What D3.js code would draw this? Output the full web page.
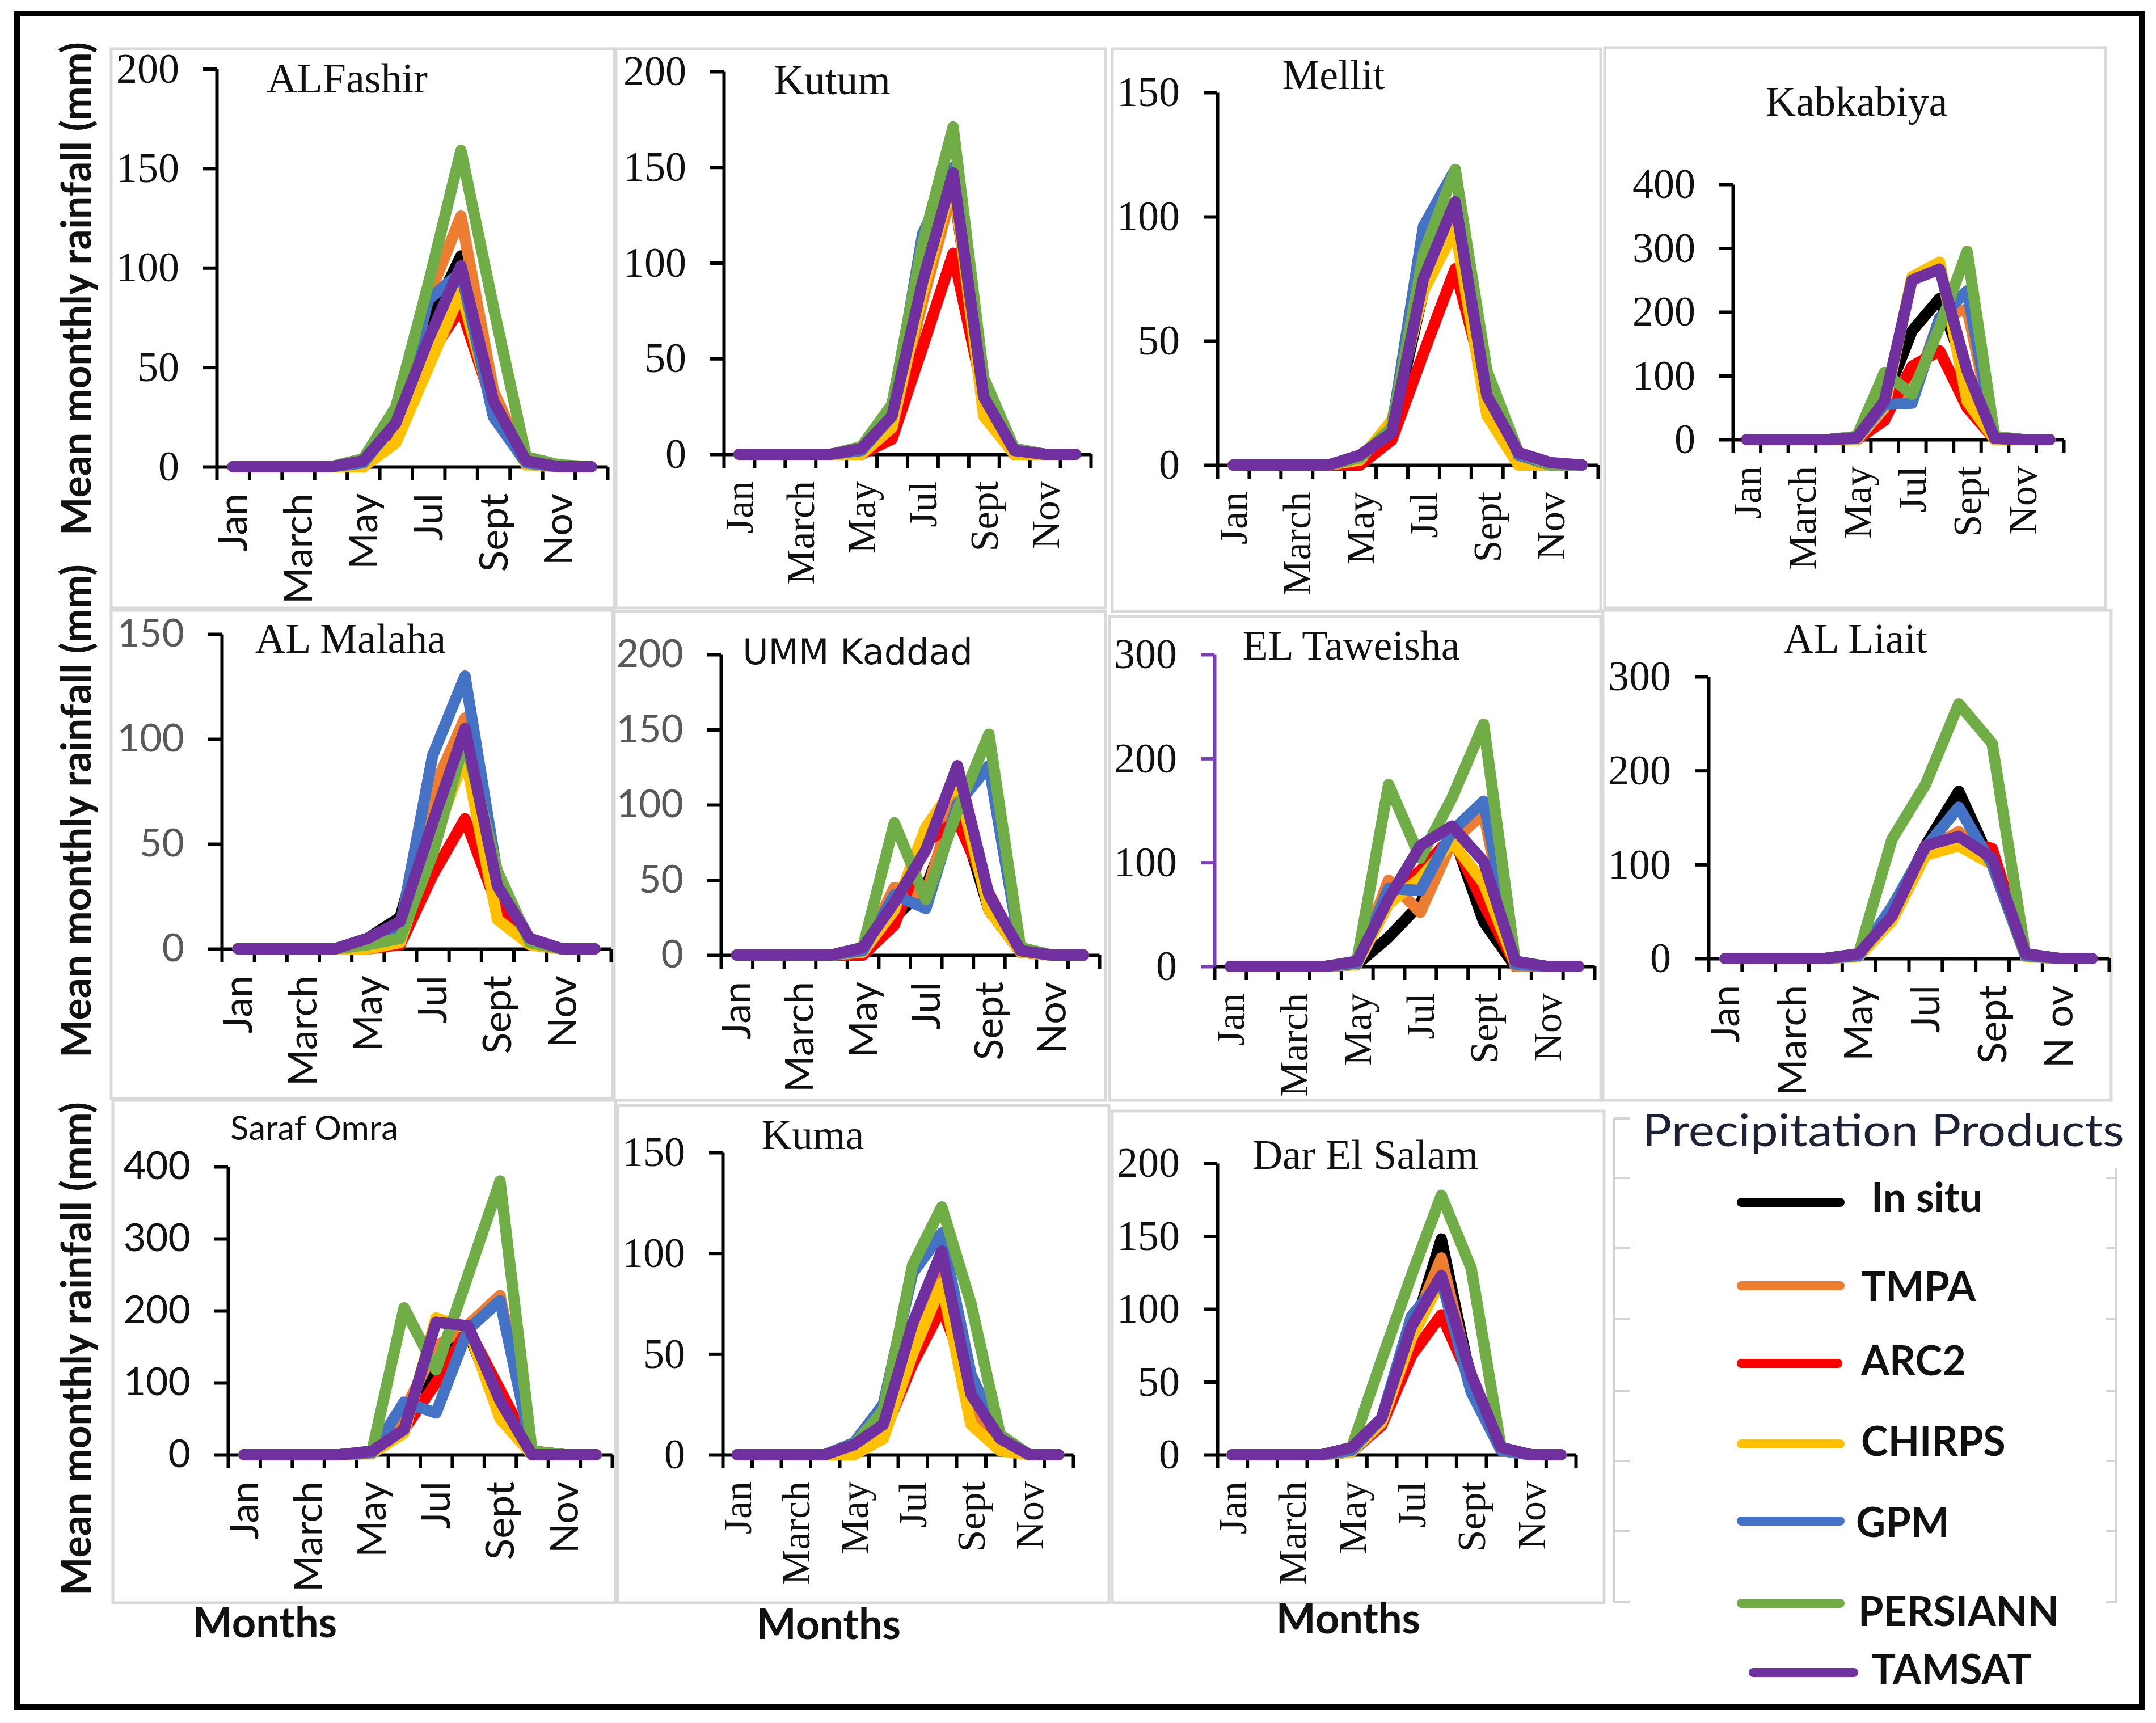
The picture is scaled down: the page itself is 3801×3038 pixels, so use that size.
<!DOCTYPE html>
<html lang="en">
<head>
<meta charset="utf-8">
<title>Mean monthly rainfall - precipitation products</title>
<script src="https://cdn.jsdelivr.net/npm/d3@7"></script>
<style>
  body { margin: 0; background: #fff; }
</style>
</head>
<body>
<script>
var W = 3801, H = 3038;

// months on the x axis, only every other one is labelled
var months = ["Jan","Feb","Mar","Apr","May","Jun","Jul","Aug","Sep","Oct","Nov","Dec"];
var monthLabels = {Jan: "Jan", Mar: "March", May: "May", Jul: "Jul", Sep: "Sept", Nov: "Nov"};

// products (series) and their colours
var products = ["In situ","TMPA","ARC2","CHIRPS","GPM","PERSIANN","TAMSAT"];
var productColors = ["#000000","#ED7D31","#FF0000","#FFC000","#4472C4","#70AD47","#7030A0"];

var stations = ["ALFashir","Kutum","Mellit","Kabkabiya","AL Malaha","UMM Kaddad",
                "EL Taweisha","AL Liait","Saraf Omra","Kuma","Dar El Salam"];
var yMax = [200, 200, 150, 400, 150, 200, 300, 300, 400, 150, 200];
var yStep = [50, 50, 50, 100, 50, 50, 100, 100, 100, 50, 50];

// mean monthly rainfall (mm), rows in product order: In situ, TMPA, ARC2, CHIRPS, GPM, PERSIANN, TAMSAT
var alFashir = [
  [0,0,0,0,2,20,72,106,32,3,0,0],
  [0,0,0,0,0,15,85,126,38,2,0,0],
  [0,0,0,0,0,18,55,80,30,2,0,0],
  [0,0,0,0,0,12,50,88,28,1,0,0],
  [0,0,0,0,2,22,84,98,25,2,0,0],
  [0,0,0,0,4,30,92,159,80,5,1,0],
  [0,0,0,0,3,22,64,101,33,3,0,0]
];
var kutum = [
  [0,0,0,0,2,18,85,140,30,2,0,0],
  [0,0,0,0,0,12,80,140,32,0,0,0],
  [0,0,0,0,0,8,56,105,30,0,0,0],
  [0,0,0,0,0,14,85,145,20,0,0,0],
  [0,0,0,0,2,20,115,150,30,3,0,0],
  [0,0,0,0,4,26,110,171,40,3,0,0],
  [0,0,0,0,3,20,90,147,30,2,0,0]
];
var mellit = [
  [0,0,0,0,3,13,70,100,35,3,0,0],
  [0,0,0,0,0,15,75,100,30,2,0,0],
  [0,0,0,0,0,10,45,79,30,2,0,0],
  [0,0,0,0,2,18,70,95,20,0,0,0],
  [0,0,0,0,3,15,96,119,35,4,0,0],
  [0,0,0,0,3,15,85,119,38,5,0,0],
  [0,0,0,0,4,13,75,106,28,5,1,0]
];
var kabkabiya = [
  [0,0,0,0,2,60,170,221,100,2,0,0],
  [0,0,0,0,0,50,65,190,205,2,0,0],
  [0,0,0,0,0,30,115,139,50,0,0,0],
  [0,0,0,0,0,50,255,278,60,0,0,0],
  [0,0,0,0,2,55,57,190,233,2,0,0],
  [0,0,0,0,5,105,71,176,295,5,0,0],
  [0,0,0,0,3,60,250,267,108,2,0,0]
];
var alMalaha = [
  [0,0,0,0,5,15,70,100,18,3,0,0],
  [0,0,0,0,3,8,75,110,25,3,0,0],
  [0,0,0,0,0,2,35,62,20,2,0,0],
  [0,0,0,0,0,3,50,92,14,2,0,0],
  [0,0,0,0,5,10,92,130,35,4,0,0],
  [0,0,0,0,2,5,45,100,37,3,0,0],
  [0,0,0,0,5,13,60,105,30,5,0,0]
];
var ummKaddad = [
  [0,0,0,0,3,25,45,100,30,2,0,0],
  [0,0,0,0,2,45,40,110,40,2,0,0],
  [0,0,0,0,0,20,75,90,41,2,0,0],
  [0,0,0,0,2,30,85,115,30,2,0,0],
  [0,0,0,0,3,40,31,100,126,3,0,0],
  [0,0,0,0,5,88,37,96,147,5,0,0],
  [0,0,0,0,5,35,70,126,40,3,0,0]
];
var elTaweisha = [
  [0,0,0,0,2,28,60,130,43,0,0,0],
  [0,0,0,0,2,83,52,120,147,0,0,0],
  [0,0,0,0,2,65,92,125,60,2,0,0],
  [0,0,0,0,2,60,85,120,80,2,0,0],
  [0,0,0,0,3,75,73,130,159,2,0,0],
  [0,0,0,0,5,175,104,162,233,5,0,0],
  [0,0,0,0,5,65,116,135,101,5,0,0]
];
var alLiait = [
  [0,0,0,0,3,50,120,178,100,3,0,0],
  [0,0,0,0,3,45,115,135,105,3,0,0],
  [0,0,0,0,3,45,112,127,117,3,0,0],
  [0,0,0,0,2,40,110,120,100,2,0,0],
  [0,0,0,0,3,55,118,161,100,3,0,0],
  [0,0,0,0,5,127,185,271,229,5,0,0],
  [0,0,0,0,5,45,120,130,107,5,0,0]
];
var sarafOmra = [
  [0,0,0,0,3,40,120,170,60,0,0,0],
  [0,0,0,0,3,60,150,180,221,5,0,0],
  [0,0,0,0,2,35,100,175,90,5,0,0],
  [0,0,0,0,2,30,190,175,50,0,0,0],
  [0,0,0,0,3,73,58,174,214,5,0,0],
  [0,0,0,0,5,204,118,249,380,5,0,0],
  [0,0,0,0,5,35,184,179,75,0,0,0]
];
var kuma = [
  [0,0,0,0,5,18,60,100,30,5,0,0],
  [0,0,0,0,3,12,55,90,25,5,0,0],
  [0,0,0,0,2,10,45,73,35,5,0,0],
  [0,0,0,0,0,8,50,85,15,2,0,0],
  [0,0,0,0,6,25,90,110,40,8,0,0],
  [0,0,0,0,5,22,94,123,75,10,0,0],
  [0,0,0,0,5,15,65,101,30,8,0,0]
];
var darElSalam = [
  [0,0,0,0,3,20,80,148,50,3,0,0],
  [0,0,0,0,3,25,85,135,50,3,0,0],
  [0,0,0,0,2,20,68,96,50,3,0,0],
  [0,0,0,0,2,22,80,120,50,3,0,0],
  [0,0,0,0,3,25,95,120,43,3,0,0],
  [0,0,0,0,5,65,123,178,128,5,0,0],
  [0,0,0,0,5,25,88,123,55,5,0,0]
];
var stationData = [alFashir, kutum, mellit, kabkabiya, alMalaha, ummKaddad,
                   elTaweisha, alLiait, sarafOmra, kuma, darElSalam];

//Fonts
var SERIF = "'Liberation Serif', 'Times New Roman', serif";
var LATO = "Lato, 'Noto Sans', sans-serif";
var DEJA = "'DejaVu Sans', Verdana, sans-serif";

//Panel geometry (pixels): y axis x, zero line y, top of y axis, end of x axis, title, frame
var panels = [
  {ax: 382,  zero: 823,  top: 121.5, xEnd: 1071, tx: 612,  ty: 163,  frame: [196, 86, 1083, 1072],  tFont: SERIF, kFont: SERIF, mFont: LATO},
  {ax: 1276, zero: 801,  top: 126,   xEnd: 1923, tx: 1467, ty: 166,  frame: [1086, 86, 1949, 1072], tFont: SERIF, kFont: SERIF, mFont: SERIF},
  {ax: 2146, zero: 820,  top: 163,   xEnd: 2817, tx: 2351, ty: 157,  frame: [1961, 86, 2822, 1078], tFont: SERIF, kFont: SERIF, mFont: SERIF},
  {ax: 3055, zero: 775,  top: 325,   xEnd: 3638, tx: 3273, ty: 204,  frame: [2829, 84, 3712, 1072], tFont: SERIF, kFont: SERIF, mFont: SERIF},
  {ax: 391,  zero: 1673, top: 1118,  xEnd: 1077, tx: 618,  ty: 1151, frame: [196, 1076, 1080, 1937], tFont: SERIF, kFont: LATO, mFont: LATO, kColor: "#595959"},
  {ax: 1271, zero: 1684, top: 1154,  xEnd: 1938, tx: 1512, ty: 1171, frame: [1083, 1078, 1949, 1940], tFont: DEJA, kFont: LATO, mFont: LATO, kColor: "#595959", tSize: 62},
  {ax: 2141, zero: 1704, top: 1154,  xEnd: 2811, tx: 2382, ty: 1163, frame: [1956, 1087, 2822, 1940], tFont: SERIF, kFont: SERIF, mFont: SERIF, yColor: "#7B3FB5"},
  {ax: 3012, zero: 1690, top: 1193,  xEnd: 3718, tx: 3271, ty: 1151, frame: [2826, 1076, 3722, 1940], tFont: SERIF, kFont: SERIF, mFont: LATO, novLabel: "N ov"},
  {ax: 402,  zero: 2565, top: 2057,  xEnd: 1079, tx: 554,  ty: 2010, frame: [199, 1940, 1085, 2826], tFont: LATO, kFont: LATO, mFont: LATO, tSize: 60},
  {ax: 1274, zero: 2565, top: 2032,  xEnd: 1892, tx: 1433, ty: 2026, frame: [1089, 1949, 1955, 2826], tFont: SERIF, kFont: SERIF, mFont: SERIF},
  {ax: 2146, zero: 2565, top: 2051,  xEnd: 2778, tx: 2407, ty: 2061, frame: [1961, 1959, 2828, 2826], tFont: SERIF, kFont: SERIF, mFont: SERIF}
];

var svg = d3.select("body").append("svg")
  .attr("width", W)
  .attr("height", H)
  .style("display", "block");

svg.append("rect").attr("width", W).attr("height", H).attr("fill", "#fff");

stations.forEach(function(name, i) {
  var p = panels[i];
  var g = svg.append("g");

  //panel frame
  g.append("rect")
    .attr("x", p.frame[0]).attr("y", p.frame[1])
    .attr("width", p.frame[2] - p.frame[0]).attr("height", p.frame[3] - p.frame[1])
    .attr("fill", "none").attr("stroke", "#d9d9d9").attr("stroke-width", 5);

  var x = d3.scaleBand().domain(months).range([p.ax, p.xEnd]);
  var xb = d3.scaleLinear().domain([0, 12]).range([p.ax, p.xEnd]);
  var y = d3.scaleLinear().domain([0, yMax[i]]).range([p.zero, p.top]);

  //x axis: ticks on the month boundaries
  var xAxis = g.append("g")
    .attr("transform", "translate(0," + p.zero + ")")
    .call(d3.axisBottom(xb).tickValues(d3.range(13)).tickFormat("").tickSize(24).tickSizeOuter(0));
  xAxis.select(".domain").attr("stroke", "#000").attr("stroke-width", 6);
  xAxis.selectAll(".tick line").attr("stroke", "#000").attr("stroke-width", 6);

  //y axis
  var yc = p.yColor || "#000";
  var yAxis = g.append("g")
    .attr("transform", "translate(" + p.ax + ",0)")
    .call(d3.axisLeft(y).tickValues(d3.range(0, yMax[i] + 1, yStep[i])).tickSize(24).tickSizeOuter(0).tickPadding(42));
  yAxis.select(".domain").attr("stroke", yc).attr("stroke-width", 6);
  yAxis.selectAll(".tick line").attr("stroke", yc).attr("stroke-width", 6);
  yAxis.selectAll(".tick text")
    .attr("fill", p.kColor || "#111")
    .style("font-family", p.kFont)
    .style("font-size", p.kFont === SERIF ? "74px" : "68px");

  //month labels, rotated
  months.forEach(function(m) {
    if (!monthLabels[m]) return;
    var label = (m === "Nov" && p.novLabel) ? p.novLabel : monthLabels[m];
    g.append("text")
      .attr("transform", "translate(" + (x(m) + x.bandwidth() / 2) + "," + (p.zero + 47) + ") rotate(-90)")
      .attr("text-anchor", "end")
      .attr("dy", "0.35em")
      .style("font-family", p.mFont)
      .style("font-size", "70px")
      .attr("fill", "#111")
      .text(label);
  });

  //lines
  var line = d3.line()
    .x(function(d, j) { return x(months[j]) + x.bandwidth() / 2; })
    .y(function(d) { return y(d); });

  stationData[i].forEach(function(vals, k) {
    g.append("path")
      .datum(vals)
      .attr("d", line)
      .attr("fill", "none")
      .attr("stroke", productColors[k])
      .attr("stroke-width", 20)
      .attr("stroke-linejoin", "round")
      .attr("stroke-linecap", "round");
  });

  //title
  g.append("text")
    .attr("x", p.tx).attr("y", p.ty)
    .attr("text-anchor", "middle")
    .style("font-family", p.tFont)
    .style("font-size", (p.tSize || 74) + "px")
    .attr("fill", "#111")
    .text(name);
});

//y axis titles, one per row
[509, 1430, 2378].forEach(function(cy) {
  svg.append("text")
    .attr("transform", "translate(135," + cy + ") rotate(-90)")
    .attr("text-anchor", "middle")
    .attr("dy", "0.35em")
    .attr("textLength", 870)
    .attr("lengthAdjust", "spacingAndGlyphs")
    .style("font-family", LATO)
    .style("font-weight", "bold")
    .style("font-size", "72px")
    .attr("fill", "#111")
    .text("Mean monthly rainfall (mm)");
});

//x axis titles under the bottom row
[[467, 2887], [1461, 2890], [2377, 2880]].forEach(function(pos) {
  svg.append("text")
    .attr("x", pos[0]).attr("y", pos[1])
    .attr("text-anchor", "middle")
    .style("font-family", LATO)
    .style("font-weight", "bold")
    .style("font-size", "74px")
    .attr("fill", "#111")
    .text("Months");
});

//legend: leftover grey axis lines
var lg = svg.append("g").attr("stroke", "#d4d4d4").attr("stroke-width", 4);
lg.append("line").attr("x1", 2846).attr("x2", 2846).attr("y1", 1972).attr("y2", 2825);
lg.append("line").attr("x1", 3731).attr("x2", 3731).attr("y1", 2060).attr("y2", 2825);
[1972, 2077, 2200, 2326, 2453, 2576, 2700, 2825].forEach(function(ty) {
  lg.append("line").attr("x1", 2846).attr("x2", 2874).attr("y1", ty).attr("y2", ty);
  if (ty > 2060) lg.append("line").attr("x1", 3713).attr("x2", 3731).attr("y1", ty).attr("y2", ty);
});

svg.append("text")
  .attr("x", 3320).attr("y", 2021)
  .attr("text-anchor", "middle")
  .attr("textLength", 850)
  .attr("lengthAdjust", "spacingAndGlyphs")
  .style("font-family", LATO)
  .style("font-size", "80px")
  .attr("fill", "#1e2235")
  .text("Precipitation Products");

var legendRows = [
  {y: 2120, x1: 3070, x2: 3244, lx: 3299, ly: 2137},
  {y: 2267, x1: 3070, x2: 3244, lx: 3281, ly: 2294},
  {y: 2404, x1: 3070, x2: 3240, lx: 3281, ly: 2425},
  {y: 2546, x1: 3070, x2: 3244, lx: 3281, ly: 2567},
  {y: 2682, x1: 3070, x2: 3244, lx: 3272, ly: 2710},
  {y: 2827, x1: 3070, x2: 3244, lx: 3276, ly: 2867},
  {y: 2949, x1: 3091, x2: 3268, lx: 3299, ly: 2969}
];
products.forEach(function(name, k) {
  var r = legendRows[k];
  svg.append("line")
    .attr("x1", r.x1).attr("x2", r.x2).attr("y1", r.y).attr("y2", r.y)
    .attr("stroke", productColors[k]).attr("stroke-width", 16).attr("stroke-linecap", "round");
  svg.append("text")
    .attr("x", r.lx).attr("y", r.ly)
    .style("font-family", LATO)
    .style("font-weight", "bold")
    .style("font-size", "72px")
    .attr("fill", "#111")
    .text(name);
});

//outer black border
svg.append("rect")
  .attr("x", 30).attr("y", 24).attr("width", 3746).attr("height", 2986)
  .attr("fill", "none").attr("stroke", "#000").attr("stroke-width", 10);
</script>
</body>
</html>
